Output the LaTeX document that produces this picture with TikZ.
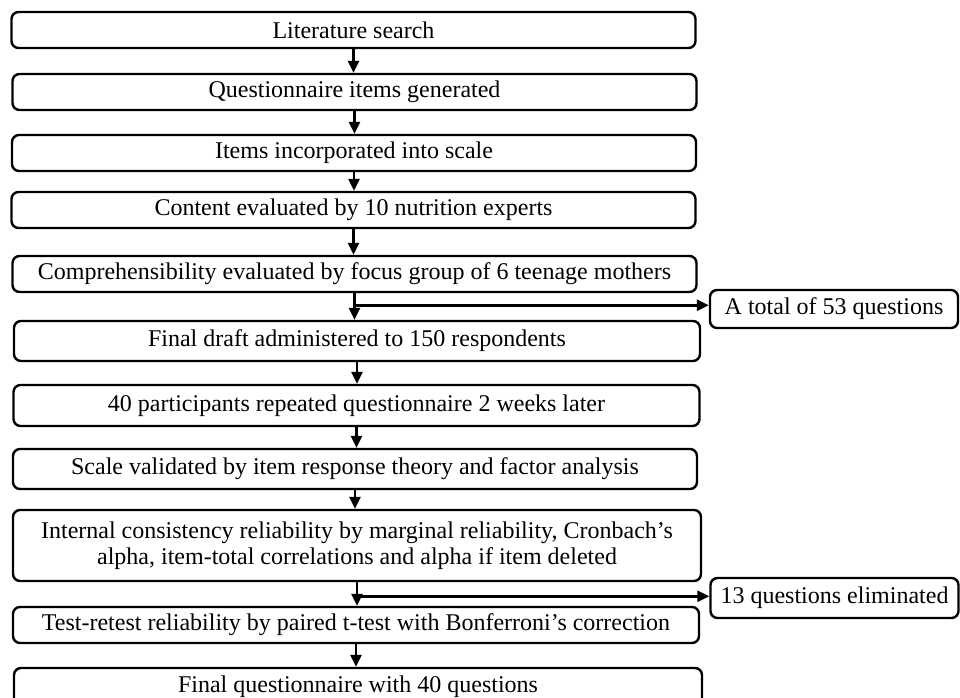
\documentclass[tikz,border=0pt]{standalone}
\usepackage{fontspec}
\setmainfont{Liberation Serif}
\usepackage{tikz}
\usetikzlibrary{arrows.meta, positioning, calc}

\begin{document}
\begin{tikzpicture}[
	  x=1pt, y=-1pt,
	  stagebox/.style={
	  	rectangle,
	  	draw,
	  	line width=2.4pt,
	  	rounded corners=7pt,
	  	align=center,
	  	inner sep=0pt,
	  	minimum width=684pt,
	  	minimum height=36pt,
	  	font=\fontsize{24}{26}\selectfont
	  },
	  sidebox/.style={
		  stagebox,
		  minimum width=248pt,
		  minimum height=38pt
	  },
	  flowarrow/.style={
		  draw,
		  line width=2.6pt,
		  -{Triangle[length=12pt,width=11pt]}
	  }]
	\clip (0,0) rectangle (960,697);
	% Main steps
	\node[stagebox] (lit) at (353.5,30) {Literature search};
	\node[stagebox] (gen) at (354.5,92) {Questionnaire items generated};
	\node[stagebox] (inc) at (354,153) {Items incorporated into scale};
	\node[stagebox] (cont) at (353.5,210) {Content evaluated by 10 nutrition experts};
	\node[stagebox] (comp) at (354.5,274) {Comprehensibility evaluated by focus group of 6 teenage mothers};
	\node[stagebox, minimum width=686pt, minimum height=40pt] (draft) at (357,341) {Final draft administered to 150 respondents};
	\node[stagebox, minimum width=686pt, minimum height=41pt] (rep) at (356.5,405.5) {40 participants repeated questionnaire 2 weeks later};
	\node[stagebox, minimum height=40pt] (valid) at (355,469) {Scale validated by item response theory and factor analysis};
	\node[stagebox, minimum width=688pt, minimum height=71pt] (intc) at (357,545.5) {Internal consistency reliability by marginal reliability, Cronbach’s\\alpha, item-total correlations and alpha if item deleted};
	\node[stagebox, minimum width=686pt] (trt) at (356,625) {Test-retest reliability by paired t-test with Bonferroni’s correction};
	\node[stagebox, minimum width=688pt, minimum height=38pt] (fin) at (358,687) {Final questionnaire with 40 questions};
	% Side notes
	\node[sidebox] (total) at (834,309) {A total of 53 questions};
	\node[sidebox, minimum height=40pt] (elim) at (834.5,598) {13 questions eliminated};
	% Arrows
	\draw[flowarrow] (lit.south) -- (lit.south |- gen.north);
	\draw[flowarrow] (gen.south) -- (gen.south |- inc.north);
	\draw[flowarrow] (inc.south) -- (inc.south |- cont.north);
	\draw[flowarrow] (cont.south) -- (cont.south |- comp.north);
	\draw[flowarrow] (comp.south) -- (comp.south |- draft.north);
	\draw[flowarrow] (draft.south) -- (draft.south |- rep.north);
	\draw[flowarrow] (rep.south) -- (rep.south |- valid.north);
	\draw[flowarrow] (valid.south) -- (valid.south |- intc.north);
	\draw[flowarrow] (intc.south) -- (intc.south |- trt.north);
	\draw[flowarrow] (trt.south) -- (trt.south |- fin.north);
	% Branches to the side notes
	\coordinate (fork1) at ($(comp.south)+(0,12)$);
	\coordinate (fork2) at ($(intc.south)+(0,14)$);
	\draw[flowarrow] (fork1) -- (fork1 -| total.west);
	\draw[flowarrow] (fork2) -- (fork2 -| elim.west);
\end{tikzpicture}
\end{document}
